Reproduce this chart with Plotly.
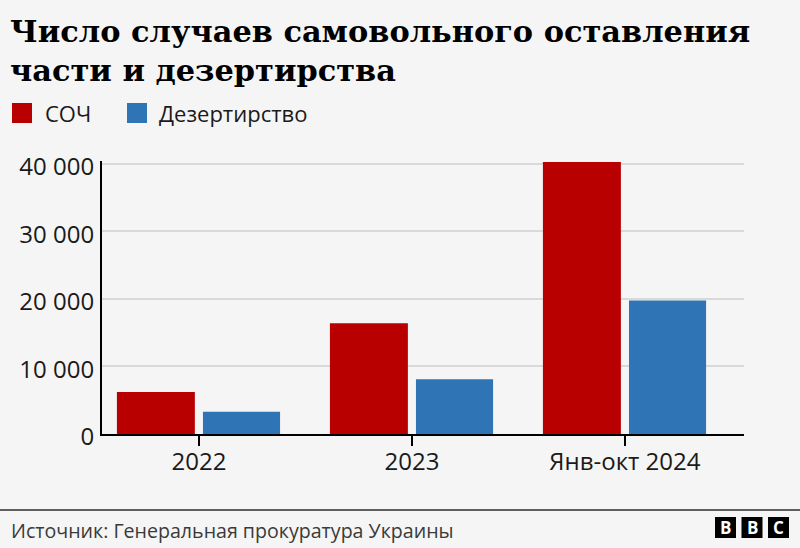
import plotly.graph_objects as go

# ---- data ----
categories = ["2022", "2023", "Янв-окт 2024"]
series_names = ["СОЧ", "Дезертирство"]
soch = [6200, 16400, 40250]
desertion = [3300, 8100, 19750]
y_tick_vals = [0, 10000, 20000, 30000, 40000]
y_tick_text = ["0", "10 000", "20 000", "30 000", "40 000"]
title_lines = ["Число случаев самовольного оставления", "части и дезертирства"]
source_text = "Источник: Генеральная прокуратура Украины"
logo_letters = ["B", "B", "C"]

# ---- layout geometry (pixels) ----
W, H = 800, 548
L, R, T, B = 102, 56, 161, 114
PW = W - L - R
PH = H - T - B


def px(x):
    return (x - L) / PW


def py(y):
    return (H - B - y) / PH


RED = "#b80000"
BLUE = "#2f74b5"
BG = "#f5f5f5"
SANS = "Open Sans"

fig = go.Figure()
fig.add_bar(x=categories, y=soch, name=series_names[0], marker_color=RED,
            marker_line_width=0, width=0.366, offset=-0.385, showlegend=False)
fig.add_bar(x=categories, y=desertion, name=series_names[1], marker_color=BLUE,
            marker_line_width=0, width=0.362, offset=0.019, showlegend=False)

shapes = []
annotations = []

# title
for i, line in enumerate(title_lines):
    annotations.append(dict(text="<b>%s</b>" % line, xref="paper", yref="paper",
                            x=px(8), y=py(31 + 39 * i), xanchor="left", yanchor="middle",
                            showarrow=False,
                            font=dict(family="DejaVu Serif", size=30.4, color="#000000")))

# legend
legend_items = [(series_names[0], RED, 12, 43), (series_names[1], BLUE, 127, 157)]
for name, col, sx, tx in legend_items:
    shapes.append(dict(type="rect", xref="paper", yref="paper",
                       x0=px(sx), x1=px(sx + 20), y0=py(123), y1=py(103),
                       fillcolor=col, line_width=0))
    annotations.append(dict(text=name, xref="paper", yref="paper", x=px(tx), y=py(113),
                            xanchor="left", yanchor="middle", showarrow=False,
                            font=dict(family=SANS, size=22, color="#1a1a1a")))

# footer
shapes.append(dict(type="line", xref="paper", yref="paper", x0=px(0), x1=px(800),
                   y0=py(510), y1=py(510), line=dict(color="#5e5e5e", width=2)))
annotations.append(dict(text=source_text, xref="paper", yref="paper", x=px(9), y=py(530),
                        xanchor="left", yanchor="middle", showarrow=False,
                        font=dict(family=SANS, size=19.6, color="#3a3a3a")))
for i, letter in enumerate(logo_letters):
    x0 = 715 + i * 26.5
    shapes.append(dict(type="rect", xref="paper", yref="paper",
                       x0=px(x0), x1=px(x0 + 21), y0=py(538), y1=py(517),
                       fillcolor="#000000", line_width=0))
    annotations.append(dict(text="<b>%s</b>" % letter, xref="paper", yref="paper",
                            x=px(x0 + 10.5), y=py(527.5), xanchor="center", yanchor="middle",
                            showarrow=False, font=dict(family=SANS, size=17, color="#ffffff")))

fig.update_layout(
    width=W, height=H,
    margin=dict(l=L, r=R, t=T, b=B, pad=0),
    paper_bgcolor=BG, plot_bgcolor=BG,
    barmode="group",
    xaxis=dict(type="category", range=[-0.455, 2.559], showgrid=False, zeroline=False,
               showline=True, linecolor="#000000", linewidth=2,
               ticks="outside", ticklen=10, tickwidth=2, tickcolor="#000000",
               ticklabelstandoff=-5,
               tickfont=dict(family=SANS, size=24, color="#1a1a1a")),
    yaxis=dict(range=[0, 40400], tickvals=y_tick_vals, ticktext=y_tick_text,
               showgrid=True, gridcolor="#d9d9d9", gridwidth=1.5, zeroline=False,
               showline=True, linecolor="#000000", linewidth=2, ticks="",
               ticklabelstandoff=1, ticklabelshift=3,
               tickfont=dict(family=SANS, size=24, color="#1a1a1a")),
    shapes=shapes, annotations=annotations,
)

fig.write_html("out.html")
